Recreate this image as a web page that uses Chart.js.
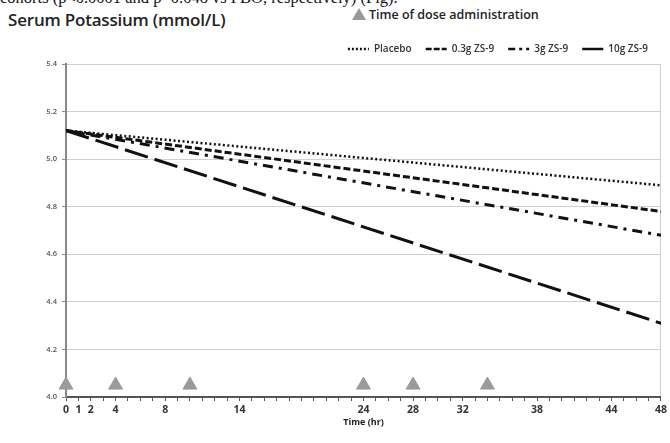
<!DOCTYPE html>
<html>
<head>
<meta charset="utf-8">
<script src="https://cdn.jsdelivr.net/npm/chart.js@4"></script>
<style>
  html, body { margin: 0; padding: 0; background: #fff; }
  #page { position: relative; width: 670px; height: 443px; overflow: hidden; }
  #cut-text { position: absolute; left: 0px; top: -12px; font: 16.5px "Liberation Serif", serif; color: #111; white-space: nowrap; }
  #title { position: absolute; left: 8px; top: 8px; font: 600 17px "Open Sans", sans-serif; color: #222; white-space: nowrap; letter-spacing: -0.2px; }
  #dose-note { position: absolute; left: 352px; top: 6px; font: 600 12.5px "Open Sans", sans-serif; color: #222; white-space: nowrap; }
  #dose-note .tri { display: inline-block; width: 0; height: 0; border-left: 7px solid transparent; border-right: 7px solid transparent; border-bottom: 12px solid #999; margin-right: 3px; vertical-align: -1px; }
  #chart-wrap { position: absolute; left: 0; top: 0; width: 670px; height: 443px; }
</style>
</head>
<body>
<div id="page">
  <div id="cut-text">cohorts (p&lt;0.0001 and p=0.048 vs PBO, respectively) (Fig).</div>
  <div id="title">Serum Potassium (mmol/L)</div>
  <div id="dose-note"><span class="tri"></span>Time of dose administration</div>
  <div id="chart-wrap"><canvas id="kChart" width="670" height="443"></canvas></div>
</div>
<script>
// --- data ---
const hours = [0, 48];
const placebo = [5.12, 4.89];
const zs03g = [5.12, 4.78];
const zs3g = [5.12, 4.68];
const zs10g = [5.12, 4.31];
const doseTimes = [0, 4, 10, 24, 28, 34];
const doseMarkerLevel = 4.05;
const xTickLabels = [0, 1, 2, 4, 8, 14, 24, 28, 32, 38, 44, 48];
const seriesNames = ["Placebo", "0.3g ZS-9", "3g ZS-9", "10g ZS-9"];

const toPoints = vals => hours.map((h, i) => ({ x: h, y: vals[i] }));

const lineStyles = [
    { dash: [2, 2.5], width: 2.5, legendDash: [2, 2] },
    { dash: [7, 3], width: 3, legendDash: [6, 2] },
    { dash: [10, 6, 3, 6], width: 3, legendDash: [7, 4, 3, 4] },
    { dash: [24, 7], width: 3, legendDash: [] }
];

const seriesValues = [placebo, zs03g, zs3g, zs10g];

const lineSets = seriesValues.map((vals, i) => ({
    label: seriesNames[i],
    data: toPoints(vals),
    borderColor: "#111",
    backgroundColor: "#111",
    borderWidth: lineStyles[i].width,
    borderDash: lineStyles[i].dash,
    pointRadius: 0,
    fill: false
}));

const doseSet = {
    label: "dose",
    type: "scatter",
    data: doseTimes.map(t => ({ x: t, y: doseMarkerLevel })),
    pointStyle: "triangle",
    pointRadius: 8,
    pointHoverRadius: 8,
    backgroundColor: "#9a9a9a",
    borderColor: "#9a9a9a",
    borderWidth: 1,
    showLine: false,
    clip: false
};

new Chart(document.getElementById("kChart").getContext("2d"), {
    type: "line",
    data: { datasets: [...lineSets, doseSet] },
    options: {
        responsive: false,
        animation: false,
        layout: { padding: { top: 30, right: 8, left: 0, bottom: 0 } },
        plugins: {
            tooltip: { enabled: false },
            legend: {
                position: "top",
                align: "end",
                labels: {
                    color: "#333",
                    font: { size: 10, family: "'Open Sans', sans-serif", weight: "600" },
                    usePointStyle: true,
                    pointStyle: "line",
                    pointStyleWidth: 21,
                    boxHeight: 4,
                    padding: 14,
                    filter: item => item.text !== "dose",
                    generateLabels: chart => {
                        const items = Chart.defaults.plugins.legend.labels.generateLabels(chart);
                        items.forEach(it => {
                            it.pointStyle = "line";
                            it.lineWidth = 2.5;
                            const idx = seriesNames.indexOf(it.text);
                            if (idx >= 0) it.lineDash = lineStyles[idx].legendDash;
                        });
                        return items;
                    }
                }
            }
        },
        scales: {
            x: {
                type: "linear",
                min: 0,
                max: 48,
                afterFit: s => { s.height = 46; },
                border: { color: "#555", width: 2 },
                grid: {
                    drawOnChartArea: true,
                    color: c => (c.tick && c.tick.value === 48 ? "#d0d0d0" : "rgba(0,0,0,0)"),
                    tickColor: "#555",
                    tickLength: 4
                },
                ticks: {
                    stepSize: 1,
                    autoSkip: false,
                    maxRotation: 0,
                    color: "#333",
                    padding: 3,
                    font: { size: 10.5, weight: "bold", family: "'Open Sans', sans-serif" },
                    callback: v => (xTickLabels.includes(v) ? String(v) : "")
                },
                title: {
                    display: true,
                    text: "Time (hr)",
                    color: "#222",
                    font: { size: 9, weight: "bold", family: "'Open Sans', sans-serif" },
                    padding: { top: 0, bottom: 15 }
                }
            },
            y: {
                min: 4.0,
                max: 5.4,
                afterFit: s => { s.width = 66; },
                border: { color: "#888", width: 2 },
                grid: { color: "#d0d0d0", lineWidth: 1, tickColor: "#888", tickLength: 4 },
                ticks: {
                    stepSize: 0.2,
                    color: "#555",
                    padding: 5,
                    font: { size: 7.5, weight: "600", family: "'Open Sans', sans-serif" },
                    callback: v => Number(v).toFixed(1)
                }
            }
        }
    }
});
</script>
</body>
</html>
